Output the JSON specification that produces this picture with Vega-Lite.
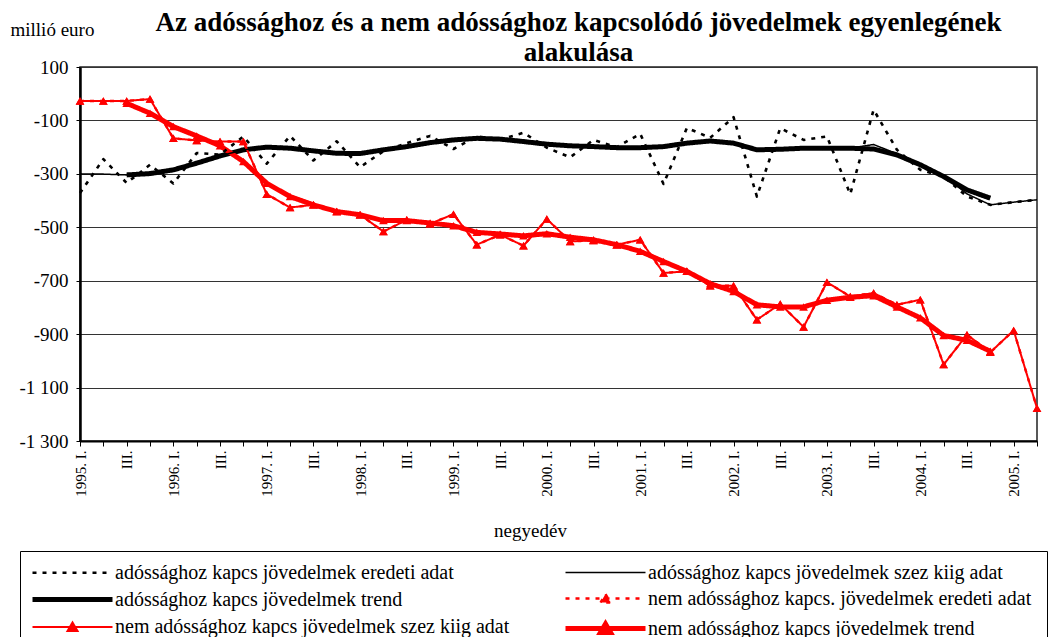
{
  "$schema": "https://vega.github.io/schema/vega-lite/v6.json",
  "width": 957,
  "height": 374,
  "autosize": {"type": "none"},
  "padding": {"left": 80, "top": 67, "right": 26, "bottom": 196},
  "background": "white",
  "title": {
    "text": ["Az adóssághoz  és a nem adóssághoz kapcsolódó jövedelmek egyenlegének", "alakulása"],
    "font": "Liberation Serif", "fontSize": 27, "fontWeight": "bold", "anchor": "middle",
    "dx": 20, "dy": 57, "lineHeight": 30, "offset": 10, "color": "black"
  },
  "config": {
    "font": "Liberation Serif",
    "view": {"stroke": "#222", "strokeWidth": 1.5},
    "axis": {"labelFont": "Liberation Serif", "titleFont": "Liberation Serif", "labelColor": "black", "titleColor": "black", "domainColor": "black", "tickColor": "black", "titleFontWeight": "normal"},
    "legend": {
      "orient": "none", "legendX": -60, "legendY": 484, "columns": 2, "direction": "horizontal", "title": null,
      "symbolSize": 400, "symbolOffset": 30, "labelOffset": 30,
      "labelFontSize": 20, "labelFont": "Liberation Serif", "labelColor": "black",
      "labelLimit": 700, "rowPadding": 4, "columnPadding": 45, "padding": 10,
      "strokeColor": "black"
    }
  },
  "data": {"values": [
    {"q": "1995. I.", "a_eredeti": -372, "a_szez": -300, "a_trend": null, "n_eredeti": -27, "n_szez": -27, "n_trend": null},
    {"q": "1995. II.", "a_eredeti": -245, "a_szez": -301, "a_trend": null, "n_eredeti": -27, "n_szez": -27, "n_trend": null},
    {"q": "1995. III.", "a_eredeti": -334, "a_szez": -304, "a_trend": -304, "n_eredeti": -27, "n_szez": -27, "n_trend": -36},
    {"q": "1995. IV.", "a_eredeti": -266, "a_szez": -298, "a_trend": -299, "n_eredeti": -20, "n_szez": -20, "n_trend": -73},
    {"q": "1996. I.", "a_eredeti": -336, "a_szez": -286, "a_trend": -285, "n_eredeti": -167, "n_szez": -167, "n_trend": -123},
    {"q": "1996. II.", "a_eredeti": -222, "a_szez": -259, "a_trend": -260, "n_eredeti": -175, "n_szez": -175, "n_trend": -158},
    {"q": "1996. III.", "a_eredeti": -228, "a_szez": -233, "a_trend": -233, "n_eredeti": -179, "n_szez": -179, "n_trend": -195},
    {"q": "1996. IV.", "a_eredeti": -160, "a_szez": -210, "a_trend": -210, "n_eredeti": -179, "n_szez": -179, "n_trend": -254},
    {"q": "1997. I.", "a_eredeti": -262, "a_szez": -200, "a_trend": -200, "n_eredeti": -376, "n_szez": -376, "n_trend": -335},
    {"q": "1997. II.", "a_eredeti": -158, "a_szez": -204, "a_trend": -204, "n_eredeti": -426, "n_szez": -426, "n_trend": -385},
    {"q": "1997. III.", "a_eredeti": -250, "a_szez": -214, "a_trend": -214, "n_eredeti": -416, "n_szez": -416, "n_trend": -416},
    {"q": "1997. IV.", "a_eredeti": -178, "a_szez": -222, "a_trend": -223, "n_eredeti": -441, "n_szez": -441, "n_trend": -441},
    {"q": "1998. I.", "a_eredeti": -275, "a_szez": -225, "a_trend": -224, "n_eredeti": -453, "n_szez": -453, "n_trend": -453},
    {"q": "1998. II.", "a_eredeti": -215, "a_szez": -210, "a_trend": -210, "n_eredeti": -516, "n_szez": -516, "n_trend": -475},
    {"q": "1998. III.", "a_eredeti": -185, "a_szez": -198, "a_trend": -198, "n_eredeti": -472, "n_szez": -472, "n_trend": -475},
    {"q": "1998. IV.", "a_eredeti": -158, "a_szez": -183, "a_trend": -183, "n_eredeti": -487, "n_szez": -487, "n_trend": -484},
    {"q": "1999. I.", "a_eredeti": -207, "a_szez": -173, "a_trend": -173, "n_eredeti": -451, "n_szez": -451, "n_trend": -494},
    {"q": "1999. II.", "a_eredeti": -160, "a_szez": -166, "a_trend": -167, "n_eredeti": -565, "n_szez": -565, "n_trend": -519},
    {"q": "1999. III.", "a_eredeti": -172, "a_szez": -170, "a_trend": -170, "n_eredeti": -528, "n_szez": -528, "n_trend": -525},
    {"q": "1999. IV.", "a_eredeti": -146, "a_szez": -178, "a_trend": -179, "n_eredeti": -569, "n_szez": -569, "n_trend": -532},
    {"q": "2000. I.", "a_eredeti": -202, "a_szez": -189, "a_trend": -189, "n_eredeti": -469, "n_szez": -469, "n_trend": -524},
    {"q": "2000. II.", "a_eredeti": -238, "a_szez": -195, "a_trend": -195, "n_eredeti": -553, "n_szez": -553, "n_trend": -537},
    {"q": "2000. III.", "a_eredeti": -173, "a_szez": -198, "a_trend": -198, "n_eredeti": -549, "n_szez": -549, "n_trend": -547},
    {"q": "2000. IV.", "a_eredeti": -200, "a_szez": -202, "a_trend": -202, "n_eredeti": -565, "n_szez": -565, "n_trend": -565},
    {"q": "2001. I.", "a_eredeti": -150, "a_szez": -201, "a_trend": -202, "n_eredeti": -547, "n_szez": -547, "n_trend": -590},
    {"q": "2001. II.", "a_eredeti": -338, "a_szez": -200, "a_trend": -198, "n_eredeti": -671, "n_szez": -671, "n_trend": -628},
    {"q": "2001. III.", "a_eredeti": -128, "a_szez": -186, "a_trend": -185, "n_eredeti": -665, "n_szez": -665, "n_trend": -665},
    {"q": "2001. IV.", "a_eredeti": -165, "a_szez": -175, "a_trend": -177, "n_eredeti": -719, "n_szez": -719, "n_trend": -711},
    {"q": "2002. I.", "a_eredeti": -88, "a_szez": -182, "a_trend": -185, "n_eredeti": -719, "n_szez": -719, "n_trend": -740},
    {"q": "2002. II.", "a_eredeti": -385, "a_szez": -215, "a_trend": -210, "n_eredeti": -846, "n_szez": -846, "n_trend": -790},
    {"q": "2002. III.", "a_eredeti": -129, "a_szez": -210, "a_trend": -208, "n_eredeti": -787, "n_szez": -787, "n_trend": -798},
    {"q": "2002. IV.", "a_eredeti": -173, "a_szez": -204, "a_trend": -204, "n_eredeti": -873, "n_szez": -873, "n_trend": -798},
    {"q": "2003. I.", "a_eredeti": -160, "a_szez": -203, "a_trend": -204, "n_eredeti": -706, "n_szez": -706, "n_trend": -773},
    {"q": "2003. II.", "a_eredeti": -376, "a_szez": -204, "a_trend": -204, "n_eredeti": -759, "n_szez": -759, "n_trend": -762},
    {"q": "2003. III.", "a_eredeti": -60, "a_szez": -190, "a_trend": -207, "n_eredeti": -746, "n_szez": -746, "n_trend": -756},
    {"q": "2003. IV.", "a_eredeti": -210, "a_szez": -225, "a_trend": -229, "n_eredeti": -790, "n_szez": -790, "n_trend": -798},
    {"q": "2004. I.", "a_eredeti": -285, "a_szez": -265, "a_trend": -266, "n_eredeti": -771, "n_szez": -771, "n_trend": -839},
    {"q": "2004. II.", "a_eredeti": -310, "a_szez": -305, "a_trend": -310, "n_eredeti": -1014, "n_szez": -1014, "n_trend": -905},
    {"q": "2004. III.", "a_eredeti": -385, "a_szez": -375, "a_trend": -360, "n_eredeti": -902, "n_szez": -902, "n_trend": -923},
    {"q": "2004. IV.", "a_eredeti": -416, "a_szez": -416, "a_trend": -391, "n_eredeti": -968, "n_szez": -968, "n_trend": -964},
    {"q": "2005. I.", "a_eredeti": -406, "a_szez": -406, "a_trend": null, "n_eredeti": -886, "n_szez": -886, "n_trend": null},
    {"q": "2005. II.", "a_eredeti": -397, "a_szez": -397, "a_trend": null, "n_eredeti": -1177, "n_szez": -1177, "n_trend": null}
  ]},
  "transform": [
    {"fold": ["a_trend", "n_trend", "n_eredeti", "n_szez", "a_szez", "a_eredeti"], "as": ["s", "v"]}
  ],
  "layer": [
    {
      "mark": {"type": "line", "strokeJoin": "round", "strokeCap": "butt"},
      "encoding": {
        "x": {
          "field": "q", "type": "ordinal", "sort": null,
          "scale": {"type": "point", "padding": 0},
          "axis": {
            "title": "negyedév", "labelAngle": 270, "labelOverlap": false,
            "labelExpr": "indexof(datum.label, ' I.') > 0 ? datum.label : (indexof(datum.label, 'III.') > 0 ? 'III.' : '')",
            "tickSize": 5, "labelPadding": 4, "labelFontSize": 15, "titleFontSize": 19,
            "titleX": 450, "titleY": 89, "titleBaseline": "middle", "titleAlign": "center", "domainWidth": 2, "grid": false
          }
        },
        "y": {
          "field": "v", "type": "quantitative",
          "scale": {"domain": [-1300, 100], "nice": false, "zero": false},
          "axis": {
            "values": [100, -100, -300, -500, -700, -900, -1100, -1300],
            "title": "millió euro", "titleAngle": 0, "titleAlign": "left", "titleBaseline": "middle",
            "titleX": -70, "titleY": -38, "titleFontSize": 19, "labelFontSize": 19,
            "labelExpr": "replace(replace(format(datum.value, ','), ',', ' '), '\u2212', '-')",
            "grid": true, "gridColor": "#333", "gridWidth": 1, "tickSize": 4, "labelPadding": 8, "domainWidth": 2.5
          }
        },
        "color": {
          "field": "s", "type": "nominal",
          "scale": {"domain": ["a_eredeti", "a_szez", "a_trend", "n_eredeti", "n_szez", "n_trend"], "range": ["#000000", "#000000", "#000000", "#ff0000", "#ff0000", "#ff0000"]},
          "legend": {
            "labelExpr": "datum.label == 'a_eredeti' ? 'adóssághoz kapcs jövedelmek eredeti adat' : datum.label == 'a_szez' ? 'adóssághoz kapcs jövedelmek  szez kiig adat' : datum.label == 'a_trend' ? 'adóssághoz kapcs jövedelmek  trend' : datum.label == 'n_eredeti' ? 'nem adóssághoz kapcs. jövedelmek  eredeti adat' : datum.label == 'n_szez' ? 'nem adóssághoz kapcs jövedelmek szez kiig adat' : 'nem adóssághoz kapcs jövedelmek  trend'",
            "encode": {"symbols": {"update": {
              "shape": {"signal": "indexof(datum.value, 'n_') == 0 ? 'M-4,0H4M-0.5,0.4L0,-0.45L0.5,0.4Z' : 'M-4,0H4'"},
              "fill": {"signal": "indexof(datum.value, 'n_') == 0 ? '#ff0000' : 'transparent'"}
            }}}
          }
        },
        "strokeDash": {
          "field": "s", "type": "nominal",
          "scale": {"domain": ["a_eredeti", "a_szez", "a_trend", "n_eredeti", "n_szez", "n_trend"], "range": [[4, 6], [1, 0], [1, 0], [4, 6], [1, 0], [1, 0]]}
        },
        "strokeWidth": {
          "field": "s", "type": "nominal",
          "scale": {"type": "ordinal", "domain": ["a_eredeti", "a_szez", "a_trend", "n_eredeti", "n_szez", "n_trend"], "range": [2.6, 1.5, 5, 2.4, 2, 5]}
        }
      }
    },
    {
      "transform": [{"filter": {"field": "s", "oneOf": ["n_eredeti", "n_szez", "n_trend"]}}],
      "mark": {"type": "point", "shape": "triangle-up", "filled": true, "color": "#ff0000", "size": 75, "opacity": 1},
      "encoding": {
        "x": {"field": "q", "type": "ordinal", "sort": null},
        "y": {"field": "v", "type": "quantitative"}
      }
    }
  ]
}
